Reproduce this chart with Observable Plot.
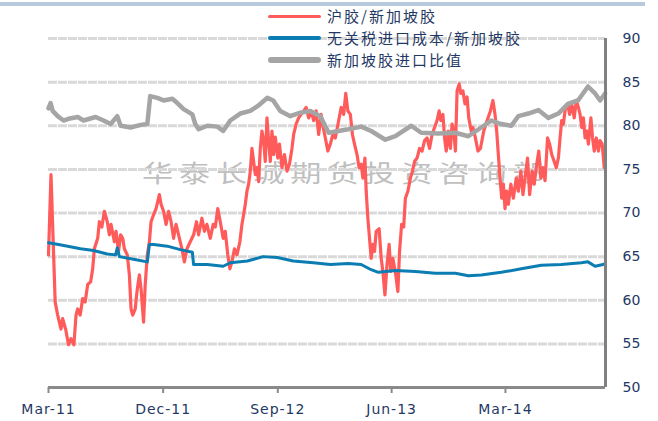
<!DOCTYPE html>
<html>
<head>
<meta charset="utf-8">
<script src="https://cdn.jsdelivr.net/npm/d3@7"></script>
<script src="https://cdn.jsdelivr.net/npm/@observablehq/plot@0.6"></script>
<style>
  body { margin: 0; background: #fff; }
  #wrap { position: relative; width: 658px; height: 421px; overflow: hidden; font-family: "Noto Sans CJK SC", sans-serif; }
  #topbar { position: absolute; left: 0; top: 2px; width: 645px; height: 4px; background: #b7c9dd; }
  #wm { position: absolute; left: 142px; top: 159px; font-size: 24px; line-height: 26px; letter-spacing: 4.5px; color: #bfbfbf; transform: scaleX(1.3); transform-origin: left top; white-space: nowrap; font-family: "Noto Sans CJK SC"; z-index: 0; }
  #chart { position: absolute; left: 0; top: 0; z-index: 1; }
  #legend { position: absolute; left: 268px; top: 5px; z-index: 2; }
  .row { position: relative; height: 22px; }
  .sw { position: absolute; left: 0; width: 53px; border-radius: 3px; }
  .lt { position: absolute; left: 59px; top: 0; font-size: 15px; letter-spacing: 2px; line-height: 22px; color: #1f3864; white-space: nowrap; }
</style>
</head>
<body>
<div id="wrap">
  <div id="topbar"></div>
  <div id="wm"></div>
  <div id="chart"></div>
  <div id="legend"></div>
</div>
<script>
// ---- data ----
const seriesNames = ["沪胶/新加坡胶", "无关税进口成本/新加坡胶", "新加坡胶进口比值"];
const seriesColors = ["#ff5b5b", "#0b7db3", "#a5a5a5"];
const watermark = "华泰长城期货投资咨询部";
const xTickDates = ["2011-03-01", "2011-12-01", "2012-09-01", "2013-06-01", "2014-03-01"];
const xTickLabels = ["Mar-11", "Dec-11", "Sep-12", "Jun-13", "Mar-14"];
const yTicks = [50, 55, 60, 65, 70, 75, 80, 85, 90];
const xDomain = ["2011-03-01", "2014-10-27"];

const hujiao = [
["2011-03-01",65.2],["2011-03-07",74.4],["2011-03-17",59.8],["2011-03-23",58.3],["2011-03-31",56.7],
["2011-04-04",57.9],["2011-04-11",56.7],["2011-04-18",54.9],["2011-04-24",55.6],["2011-05-01",54.9],
["2011-05-06",58.3],["2011-05-10",59.0],["2011-05-16",58.3],["2011-05-22",60.2],["2011-05-28",59.8],
["2011-06-03",61.8],["2011-06-10",62.1],["2011-06-15",63.6],["2011-06-19",65.9],["2011-06-27",67.1],
["2011-07-01",69.0],["2011-07-07",68.4],["2011-07-13",70.2],["2011-07-20",69.0],["2011-07-25",67.5],
["2011-07-29",68.7],["2011-08-06",66.7],["2011-08-10",67.9],["2011-08-16",65.6],["2011-08-21",67.5],
["2011-08-26",67.1],["2011-08-30",65.9],["2011-09-06",65.2],["2011-09-11",62.9],["2011-09-15",59.0],
["2011-09-19",58.3],["2011-09-25",59.0],["2011-09-30",61.3],["2011-10-05",62.9],["2011-10-09",61.3],
["2011-10-15",57.5],["2011-10-19",61.8],["2011-10-24",65.2],["2011-10-29",66.7],["2011-11-02",69.0],
["2011-11-08",69.8],["2011-11-14",70.5],["2011-11-22",72.1],["2011-11-26",71.0],["2011-12-02",70.2],
["2011-12-08",68.7],["2011-12-14",70.2],["2011-12-20",69.0],["2011-12-26",67.1],["2012-01-01",68.7],
["2012-01-09",67.1],["2012-01-15",65.9],["2012-01-21",64.4],["2012-01-27",65.9],["2012-02-04",66.7],
["2012-02-12",67.5],["2012-02-19",69.0],["2012-02-24",67.5],["2012-03-03",69.4],["2012-03-09",67.9],
["2012-03-15",68.7],["2012-03-23",67.1],["2012-03-30",68.7],["2012-04-04",68.4],["2012-04-10",70.5],
["2012-04-16",69.0],["2012-04-23",67.1],["2012-04-28",67.9],["2012-05-04",65.2],["2012-05-09",63.6],
["2012-05-14",64.4],["2012-05-20",65.9],["2012-05-26",65.2],["2012-06-02",66.7],["2012-06-07",68.7],
["2012-06-11",69.8],["2012-06-15",71.0],["2012-06-19",72.5],["2012-06-23",73.3],["2012-06-27",74.8],
["2012-07-01",77.4],["2012-07-05",75.9],["2012-07-09",74.4],["2012-07-13",75.2],["2012-07-17",73.6],
["2012-07-21",77.4],["2012-07-25",79.4],["2012-07-29",78.3],["2012-08-02",75.9],["2012-08-06",80.9],
["2012-08-10",78.3],["2012-08-14",75.9],["2012-08-18",79.4],["2012-08-22",76.7],["2012-08-26",78.7],
["2012-09-01",76.3],["2012-09-05",77.9],["2012-09-11",75.2],["2012-09-17",76.7],["2012-09-23",74.8],
["2012-09-29",75.6],["2012-10-05",77.4],["2012-10-09",79.0],["2012-10-15",80.2],["2012-10-21",80.9],
["2012-10-27",81.3],["2012-11-02",81.7],["2012-11-08",82.1],["2012-11-14",80.9],["2012-11-20",81.7],
["2012-11-26",80.6],["2012-12-02",81.7],["2012-12-08",79.0],["2012-12-14",81.3],["2012-12-19",79.8],
["2012-12-24",78.6],["2012-12-30",77.1],["2013-01-05",77.9],["2013-01-11",79.0],["2013-01-17",78.6],
["2013-01-25",80.6],["2013-01-31",82.1],["2013-02-06",81.3],["2013-02-11",83.7],["2013-02-16",81.7],
["2013-02-22",81.3],["2013-02-27",79.0],["2013-03-04",77.9],["2013-03-10",76.7],["2013-03-15",75.2],
["2013-03-20",75.6],["2013-03-24",74.0],["2013-03-29",76.3],["2013-04-01",72.5],["2013-04-05",69.4],
["2013-04-09",67.1],["2013-04-13",64.8],["2013-04-17",66.4],["2013-04-21",65.6],["2013-04-25",67.9],
["2013-05-02",68.2],["2013-05-07",64.8],["2013-05-11",63.3],["2013-05-16",60.6],["2013-05-21",64.1],
["2013-05-26",66.4],["2013-05-30",63.3],["2013-06-04",64.8],["2013-06-11",62.9],["2013-06-16",61.0],
["2013-06-20",65.6],["2013-06-25",68.7],["2013-06-30",68.4],["2013-07-04",71.7],["2013-07-10",72.5],
["2013-07-16",74.0],["2013-07-21",74.8],["2013-07-26",75.9],["2013-08-01",76.3],["2013-08-07",77.4],
["2013-08-13",77.1],["2013-08-19",78.3],["2013-08-25",78.6],["2013-08-31",77.4],["2013-09-06",79.0],
["2013-09-12",79.8],["2013-09-18",80.6],["2013-09-23",81.7],["2013-09-27",80.6],["2013-10-02",81.3],
["2013-10-06",78.6],["2013-10-10",77.1],["2013-10-15",79.4],["2013-10-20",77.4],["2013-10-24",80.2],
["2013-10-28",79.4],["2013-11-01",77.1],["2013-11-05",84.0],["2013-11-10",84.8],["2013-11-14",83.7],
["2013-11-19",84.0],["2013-11-24",82.5],["2013-11-29",83.3],["2013-12-03",80.9],["2013-12-09",79.4],
["2013-12-13",79.8],["2013-12-19",78.6],["2013-12-25",77.1],["2013-12-31",77.4],["2014-01-08",79.4],
["2014-01-16",80.6],["2014-01-24",81.7],["2014-01-30",82.9],["2014-02-04",81.3],["2014-02-08",79.4],
["2014-02-12",76.7],["2014-02-16",74.0],["2014-02-20",71.7],["2014-02-24",73.3],["2014-02-28",70.5],
["2014-03-04",72.5],["2014-03-08",71.0],["2014-03-14",73.3],["2014-03-20",71.7],["2014-03-27",74.0],
["2014-04-01",72.5],["2014-04-07",74.8],["2014-04-12",72.1],["2014-04-17",74.0],["2014-04-23",76.3],
["2014-04-28",72.1],["2014-05-04",74.8],["2014-05-09",73.3],["2014-05-15",75.6],["2014-05-20",77.1],
["2014-05-25",74.0],["2014-05-30",75.2],["2014-06-04",73.7],["2014-06-10",78.6],["2014-06-15",77.9],
["2014-06-20",76.7],["2014-06-26",75.9],["2014-07-01",75.2],["2014-07-06",76.3],["2014-07-10",78.6],
["2014-07-14",80.6],["2014-07-18",80.2],["2014-07-23",82.1],["2014-07-28",82.5],["2014-08-02",81.3],
["2014-08-07",82.5],["2014-08-13",80.9],["2014-08-18",82.9],["2014-08-23",82.1],["2014-08-27",81.3],
["2014-08-31",79.8],["2014-09-04",80.9],["2014-09-08",78.6],["2014-09-12",79.4],["2014-09-16",77.9],
["2014-09-22",80.9],["2014-09-26",78.6],["2014-09-30",77.1],["2014-10-05",78.6],["2014-10-10",77.1],
["2014-10-14",78.3],["2014-10-19",77.9],["2014-10-24",75.2],["2014-10-26",77.1]
];

const importCost = [
["2011-03-01",66.6],["2011-03-25",66.4],["2011-04-16",66.2],["2011-05-17",65.9],["2011-06-17",65.7],
["2011-07-20",65.3],["2011-08-09",65.2],["2011-08-13",66.0],["2011-08-18",65.0],["2011-09-21",64.7],
["2011-10-24",64.4],["2011-10-29",66.4],["2011-11-08",66.4],["2011-12-11",66.2],["2012-01-11",65.8],
["2012-02-09",65.5],["2012-02-12",64.1],["2012-03-16",64.1],["2012-04-23",63.9],["2012-05-10",64.3],
["2012-06-20",64.5],["2012-07-28",65.0],["2012-08-31",64.9],["2012-10-08",64.5],["2012-11-25",64.3],
["2013-01-05",64.1],["2013-02-17",64.2],["2013-03-20",64.1],["2013-04-13",63.5],["2013-04-30",63.2],
["2013-06-10",63.4],["2013-07-28",63.3],["2013-09-14",63.1],["2013-11-01",63.1],["2013-12-02",62.8],
["2014-01-02",62.9],["2014-02-19",63.2],["2014-04-08",63.6],["2014-05-26",64.0],["2014-07-13",64.1],
["2014-08-30",64.3],["2014-09-15",64.4],["2014-10-02",63.9],["2014-10-21",64.1],["2014-10-26",64.2]
];

const sgRatio = [
["2011-03-01",82.0],["2011-03-06",82.6],["2011-03-11",81.7],["2011-03-23",81.1],["2011-04-06",80.6],
["2011-04-18",80.8],["2011-05-10",81.0],["2011-05-24",80.6],["2011-06-22",81.0],["2011-07-11",80.6],
["2011-07-28",80.2],["2011-08-13",81.1],["2011-08-21",80.0],["2011-09-14",79.8],["2011-10-08",80.1],
["2011-10-24",80.2],["2011-10-31",83.4],["2011-11-17",83.2],["2011-12-02",82.9],["2011-12-23",83.1],
["2012-01-04",82.6],["2012-01-19",81.9],["2012-02-09",81.3],["2012-02-16",80.2],["2012-02-24",79.6],
["2012-03-16",80.0],["2012-04-09",79.9],["2012-04-23",79.4],["2012-05-10",80.6],["2012-06-03",81.4],
["2012-06-27",81.7],["2012-07-16",82.3],["2012-08-07",83.2],["2012-08-21",82.9],["2012-09-07",81.7],
["2012-10-01",81.1],["2012-10-25",81.5],["2012-11-18",81.7],["2012-12-12",81.1],["2013-01-01",79.2],
["2013-02-17",79.6],["2013-03-20",79.9],["2013-04-13",79.4],["2013-05-17",78.4],["2013-06-10",78.8],
["2013-07-18",80.0],["2013-08-11",79.2],["2013-09-21",79.1],["2013-11-01",79.2],["2013-12-02",78.8],
["2014-01-02",79.8],["2014-01-26",80.6],["2014-02-19",80.2],["2014-03-15",80.0],["2014-04-01",81.1],
["2014-04-25",81.4],["2014-05-19",81.8],["2014-06-12",80.9],["2014-07-06",81.4],["2014-07-29",82.5],
["2014-08-22",82.9],["2014-09-15",84.5],["2014-10-02",83.7],["2014-10-14",82.9],["2014-10-26",83.7]
];

// ---- build ----
const parse = d3.utcParse("%Y-%m-%d");
const toRows = arr => arr.map(([d, v]) => ({date: parse(d), value: v}));
const red = toRows(hujiao), blue = toRows(importCost), gray = toRows(sgRatio);
const tickDates = xTickDates.map(parse);
const labelOf = new Map(tickDates.map((d, i) => [+d, xTickLabels[i]]));
const x0 = parse(xDomain[0]), x1 = parse(xDomain[1]);

const navy = "#1f3864";
const plot = Plot.plot({
  width: 658, height: 421,
  marginLeft: 48, marginRight: 53, marginTop: 38, marginBottom: 34,
  style: {background: "transparent", fontFamily: "'DejaVu Sans', sans-serif"},
  x: {type: "utc", domain: [x0, x1]},
  y: {domain: [50, 90]},
  marks: [
    Plot.ruleY(yTicks.filter(t => t > 50), {stroke: "#d9d9d9", strokeWidth: 3, strokeDasharray: "9,1"}),
    Plot.line(red, {x: "date", y: "value", stroke: seriesColors[0], strokeWidth: 3.2, strokeLinejoin: "round"}),
    Plot.line(blue, {x: "date", y: "value", stroke: seriesColors[1], strokeWidth: 3, strokeLinejoin: "round"}),
    Plot.line(gray, {x: "date", y: "value", stroke: seriesColors[2], strokeWidth: 4.5, strokeLinejoin: "round", strokeLinecap: "round"}),
    Plot.ruleY([50], {stroke: "#8a8a8a", strokeWidth: 3}),
    Plot.ruleX([x1], {y1: 50, y2: 90, stroke: "#808080", strokeWidth: 3}),
    Plot.axisX({ticks: tickDates, tickFormat: d => labelOf.get(+d), tickSize: 6, tickPadding: 11, stroke: "#8a8a8a", strokeWidth: 2, fill: navy, fontSize: 14, label: null}),
    Plot.axisY({anchor: "right", ticks: yTicks, tickSize: 0, tickPadding: 17, fill: navy, fontSize: 14, label: null})
  ]
});
document.getElementById("chart").appendChild(plot);
plot.querySelectorAll("g[aria-label='x-axis tick label'] text").forEach(t => t.setAttribute("letter-spacing", "1"));

document.getElementById("wm").textContent = watermark;

const lg = document.getElementById("legend");
const swH = [3, 4, 6];
seriesNames.forEach((n, i) => {
  const row = document.createElement("div");
  row.className = "row";
  const sw = document.createElement("div");
  sw.className = "sw";
  sw.style.background = seriesColors[i];
  sw.style.height = swH[i] + "px";
  sw.style.top = (11 - swH[i] / 2) + "px";
  const t = document.createElement("div");
  t.className = "lt";
  t.textContent = n;
  row.appendChild(sw); row.appendChild(t);
  lg.appendChild(row);
});
</script>
</body>
</html>
